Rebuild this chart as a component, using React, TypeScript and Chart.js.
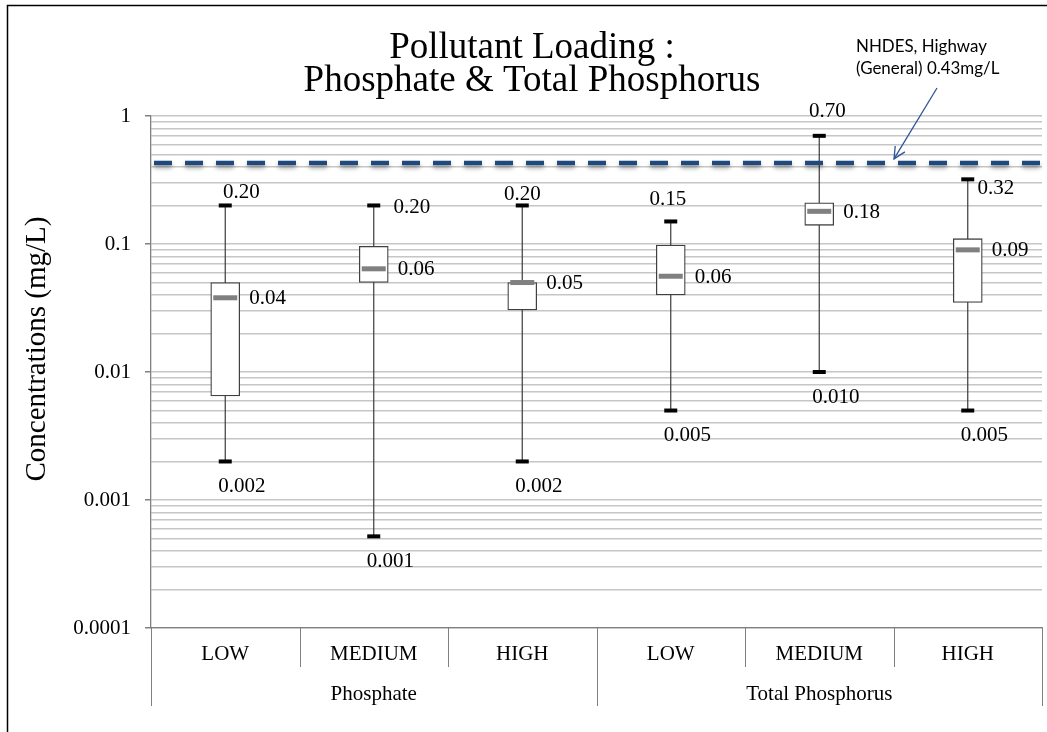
import React, { useEffect, useRef } from 'react';
import { Chart, registerables } from 'chart.js';

Chart.register(...registerables);

// ---------- data ----------
const categories = ['LOW', 'MEDIUM', 'HIGH', 'LOW', 'MEDIUM', 'HIGH'];
const groupNames = ['Phosphate', 'Total Phosphorus'];
const groupSizes = [3, 3];
const minValues = [0.002, 0.00052, 0.002, 0.005, 0.01, 0.005];
const q1Values = [0.0065, 0.05, 0.0305, 0.04, 0.14, 0.035];
const medianValues = [0.038, 0.064, 0.05, 0.056, 0.18, 0.09];
const q3Values = [0.05, 0.096, 0.05, 0.098, 0.21, 0.11];
const maxValues = [0.2, 0.2, 0.2, 0.15, 0.7, 0.32];
const yTickLabels = ['0.0001', '0.001', '0.01', '0.1', '1'];
const thresholdValue = 0.43;
const thresholdNote = ['NHDES, Highway', '(General) 0.43mg/L'];
const titleLines = ['Pollutant Loading :', 'Phosphate & Total Phosphorus'];
const yAxisTitle = 'Concentrations (mg/L)';

// ---------- style ----------
const SERIF = "'Liberation Serif', 'Times New Roman', serif";
const NOTE_FONT = "Lato, 'Open Sans', sans-serif";
// offsets of the max-value labels relative to the whisker cap (dx, dy), centred text
const maxLabelOffsets = [
  [16, -13],
  [38, 2],
  [0, -11],
  [-3, -22],
  [8, -24],
  [28, 9],
];

const yTickValues: number[] = [];
for (let d = -4; d <= 0; d++) {
  for (let m = 1; m <= 9; m++) {
    if (d === 0 && m > 1) break;
    yTickValues.push(parseFloat((m * Math.pow(10, d)).toPrecision(3)));
  }
}
const isDecade = (v: number) => Math.abs(Math.log10(v) - Math.round(Math.log10(v))) < 1e-6;

const decorPlugin = {
  id: 'boxDecor',
  beforeDatasetsDraw(chart: any) {
    const { ctx, scales } = chart;
    const x = scales.x;
    const y = scales.y;
    ctx.save();
    for (let i = 0; i < categories.length; i++) {
      const cx = x.getPixelForValue(i);
      const yMin = y.getPixelForValue(minValues[i]);
      const yMax = y.getPixelForValue(maxValues[i]);
      ctx.strokeStyle = '#3a3a3a';
      ctx.lineWidth = 1.2;
      ctx.beginPath();
      ctx.moveTo(cx, yMax);
      ctx.lineTo(cx, yMin);
      ctx.stroke();
      ctx.fillStyle = '#000000';
      ctx.fillRect(cx - 6.5, yMax - 2, 13, 4);
      ctx.fillRect(cx - 6.5, yMin - 2, 13, 4);
    }
    ctx.restore();
  },
  afterDatasetsDraw(chart: any) {
    const { ctx, scales, chartArea } = chart;
    const x = scales.x;
    const y = scales.y;
    ctx.save();
    // threshold line
    const ty = y.getPixelForValue(thresholdValue);
    ctx.save();
    ctx.strokeStyle = '#1f497d';
    ctx.lineWidth = 4.5;
    ctx.setLineDash([18, 13]);
    ctx.shadowColor = 'rgba(0,0,0,0.35)';
    ctx.shadowBlur = 4;
    ctx.shadowOffsetY = 3;
    ctx.beginPath();
    ctx.moveTo(chartArea.left + 3, ty);
    ctx.lineTo(chartArea.right, ty);
    ctx.stroke();
    ctx.restore();

    ctx.font = `21px ${SERIF}`;
    ctx.fillStyle = '#000000';
    ctx.textBaseline = 'middle';
    for (let i = 0; i < categories.length; i++) {
      const cx = x.getPixelForValue(i);
      const yMed = y.getPixelForValue(medianValues[i]);
      const yMin = y.getPixelForValue(minValues[i]);
      const yMax = y.getPixelForValue(maxValues[i]);
      ctx.fillStyle = '#808080';
      ctx.fillRect(cx - 12, yMed - 2.5, 24, 5);
      ctx.fillStyle = '#000000';
      ctx.textAlign = 'left';
      ctx.fillText(medianValues[i].toFixed(2), cx + 24, yMed + 1);
      ctx.fillText(minValues[i].toFixed(3), cx - 7, yMin + 25);
      ctx.textAlign = 'center';
      const [dx, dy] = maxLabelOffsets[i];
      ctx.fillText(maxValues[i].toFixed(2), cx + dx, yMax + dy);
    }
    ctx.restore();
  },
  afterDraw(chart: any) {
    const { ctx, scales, chartArea } = chart;
    const x = scales.x;
    ctx.save();
    // title
    ctx.fillStyle = '#000000';
    ctx.font = `37px ${SERIF}`;
    ctx.textAlign = 'center';
    ctx.textBaseline = 'alphabetic';
    ctx.fillText(titleLines[0], 532, 58);
    ctx.fillText(titleLines[1], 532, 91);

    // y axis title
    ctx.save();
    ctx.translate(37, (chartArea.top + chartArea.bottom) / 2 - 23);
    ctx.rotate(-Math.PI / 2);
    ctx.font = `29px ${SERIF}`;
    ctx.textAlign = 'center';
    ctx.textBaseline = 'middle';
    ctx.fillText(yAxisTitle, 0, 0);
    ctx.restore();

    // category separators and group labels
    const bottom = chartArea.bottom;
    const n = categories.length;
    const half = (x.getPixelForValue(1) - x.getPixelForValue(0)) / 2;
    ctx.strokeStyle = '#808080';
    ctx.lineWidth = 1;
    let groupStart = 0;
    const groupEdges: number[] = [0];
    for (const s of groupSizes) {
      groupStart += s;
      groupEdges.push(groupStart);
    }
    for (let k = 0; k <= n; k++) {
      const px = k === 0 ? chartArea.left : k === n ? chartArea.right : x.getPixelForValue(k) - half;
      const isGroup = groupEdges.includes(k);
      ctx.beginPath();
      ctx.moveTo(Math.round(px) + 0.5, bottom);
      ctx.lineTo(Math.round(px) + 0.5, bottom + (isGroup ? 78 : 39));
      ctx.stroke();
    }
    ctx.font = `21px ${SERIF}`;
    ctx.textAlign = 'center';
    ctx.textBaseline = 'middle';
    for (let g = 0; g < groupNames.length; g++) {
      const a = groupEdges[g];
      const b = groupEdges[g + 1] - 1;
      const gx = (x.getPixelForValue(a) + x.getPixelForValue(b)) / 2;
      ctx.fillText(groupNames[g], gx, bottom + 66);
    }

    // annotation note + arrow
    ctx.font = `20px ${NOTE_FONT}`;
    const w = ctx.measureText(thresholdNote[0]).width;
    const size = 20 * 131 / w;
    ctx.font = `${size}px ${NOTE_FONT}`;
    ctx.fillStyle = '#000000';
    ctx.textAlign = 'left';
    ctx.textBaseline = 'alphabetic';
    ctx.fillText(thresholdNote[0], 856, 52);
    ctx.fillText(thresholdNote[1], 856, 74);

    const tipY = scales.y.getPixelForValue(thresholdValue) - 4;
    const x0 = 937, y0 = 88, x1 = 894, y1 = tipY;
    ctx.strokeStyle = '#2f5597';
    ctx.lineWidth = 1.3;
    ctx.beginPath();
    ctx.moveTo(x0, y0);
    ctx.lineTo(x1, y1);
    ctx.stroke();
    const ang = Math.atan2(y1 - y0, x1 - x0);
    const L = 13;
    ctx.beginPath();
    ctx.moveTo(x1 - L * Math.cos(ang - 0.45), y1 - L * Math.sin(ang - 0.45));
    ctx.lineTo(x1, y1);
    ctx.lineTo(x1 - L * Math.cos(ang + 0.45), y1 - L * Math.sin(ang + 0.45));
    ctx.stroke();

    // outer border
    ctx.strokeStyle = '#000000';
    ctx.lineWidth = 1.5;
    ctx.strokeRect(7.5, 5.5, 1200, 900);
    ctx.restore();
  },
};

export default function App() {
  const canvasRef = useRef<HTMLCanvasElement | null>(null);

  useEffect(() => {
    const canvas = canvasRef.current;
    if (!canvas) return;
    const chart = new Chart(canvas, {
      type: 'bar',
      data: {
        labels: categories,
        datasets: [
          {
            data: categories.map((_, i) => [q1Values[i], q3Values[i]]) as any,
            backgroundColor: '#ffffff',
            borderColor: '#404040',
            borderWidth: 1.3,
            borderSkipped: false,
            barThickness: 29,
          },
        ],
      },
      options: {
        responsive: false,
        animation: false,
        devicePixelRatio: 1,
        layout: { padding: { top: 116, right: 5, left: 0, bottom: 0 } },
        plugins: {
          legend: { display: false },
          tooltip: { enabled: false },
          title: { display: false },
        },
        scales: {
          x: {
            type: 'category',
            offset: true,
            grid: { display: false, drawTicks: false },
            border: { color: '#808080', width: 1.3 },
            ticks: {
              color: '#000000',
              font: { family: SERIF, size: 21 },
              padding: 14,
              maxRotation: 0,
              autoSkip: false,
            },
            afterFit: (s: any) => {
              s.height = 104;
            },
          },
          y: {
            type: 'logarithmic',
            min: 0.0001,
            max: 1,
            afterBuildTicks: (s: any) => {
              s.ticks = yTickValues.map((v) => ({ value: v }));
            },
            ticks: {
              autoSkip: false,
              color: '#000000',
              font: { family: SERIF, size: 21 },
              padding: 14,
              callback: (v: any) => {
                const val = Number(v);
                if (!isDecade(val)) return '';
                return yTickLabels[Math.round(Math.log10(val)) + 4];
              },
            },
            grid: {
              color: '#c6c6c6',
              lineWidth: 1.5,
              tickLength: 6,
              tickColor: (c: any) => (c.tick && isDecade(c.tick.value) ? '#808080' : 'rgba(0,0,0,0)'),
            },
            border: { color: '#808080', width: 1.3 },
            afterFit: (s: any) => {
              s.width = 151;
            },
          },
        },
      } as any,
      plugins: [decorPlugin],
    });
    return () => chart.destroy();
  }, []);

  return (
    <div style={{ position: 'fixed', left: 0, top: 0, width: 1047, height: 732, background: '#ffffff' }}>
      <canvas ref={canvasRef} width={1047} height={732} style={{ display: 'block' }} />
    </div>
  );
}
